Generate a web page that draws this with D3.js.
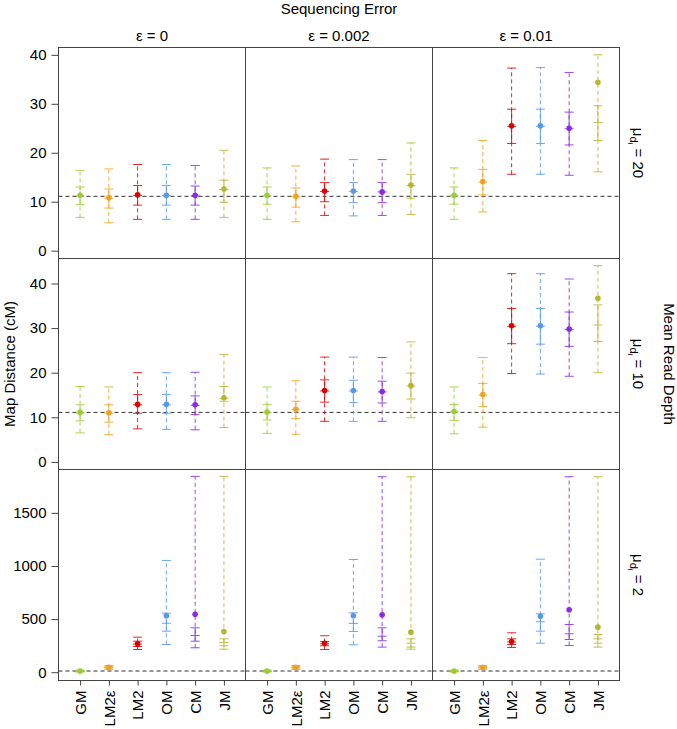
<!DOCTYPE html>
<html>
<head>
<meta charset="utf-8">
<script src="https://cdn.jsdelivr.net/npm/d3@7"></script>
<style>
  body { margin: 0; background: #fff; }
  svg text { font-family: "Liberation Sans", Arial, sans-serif; fill: #000; }
</style>
</head>
<body>
<svg id="chart" width="677" height="729"></svg>
<script>
// ---------------- data ----------------
const categories = ["GM", "LM2\u03b5", "LM2", "OM", "CM", "JM"];
const colLabels = ["\u03b5 = 0", "\u03b5 = 0.002", "\u03b5 = 0.01"];
const rowDepths = ["20", "10", "2"];
const trueDistance = 11.1;
const yTicksTop = [0, 10, 20, 30, 40];
const yTicksMid = [0, 10, 20, 30, 40];
const yTicksBottom = [0, 500, 1000, 1500];
const yLimits = [[-1.6, 41.5], [-1.7, 45.6], [-78, 1908]];

// each row: [min, q1, median, q3, max, mean] per category
const depth20_e0 = [
  [6.8, 9.4, 11.2, 13.0, 16.4, 11.3],
  [5.7, 8.7, 10.7, 12.6, 16.7, 10.8],
  [6.4, 9.3, 11.3, 13.3, 17.6, 11.4],
  [6.4, 9.3, 11.3, 13.3, 17.6, 11.3],
  [6.4, 9.3, 11.2, 13.2, 17.4, 11.3],
  [6.8, 9.9, 12.5, 14.4, 20.5, 12.6]
];
const depth20_e002 = [
  [6.4, 9.5, 11.2, 13.0, 16.9, 11.3],
  [5.9, 8.9, 11.0, 12.8, 17.3, 11.1],
  [7.2, 10.0, 12.1, 13.9, 18.7, 12.2],
  [7.1, 9.8, 12.1, 13.9, 18.6, 12.2],
  [7.2, 9.8, 12.0, 13.9, 18.6, 12.0],
  [7.4, 10.7, 13.3, 15.6, 22.0, 13.4]
];
const depth20_e01 = [
  [6.4, 9.5, 11.2, 13.0, 16.9, 11.3],
  [7.9, 11.4, 14.0, 16.6, 22.5, 14.1],
  [15.6, 21.9, 25.4, 28.9, 37.3, 25.5],
  [15.6, 21.9, 25.4, 28.9, 37.4, 25.5],
  [15.4, 21.6, 24.9, 28.3, 36.4, 25.0],
  [16.1, 22.5, 26.2, 29.6, 40.0, 34.4]
];
const depth10_e0 = [
  [6.5, 9.2, 11.0, 12.8, 16.9, 11.1],
  [6.1, 8.9, 10.9, 12.8, 16.8, 11.0],
  [7.4, 10.9, 12.8, 15.1, 20.0, 12.9],
  [7.3, 10.9, 12.8, 15.1, 20.0, 12.9],
  [7.2, 10.6, 12.7, 14.8, 20.1, 12.8],
  [7.7, 13.6, 14.2, 16.9, 24.1, 14.4]
];
const depth10_e002 = [
  [6.4, 9.4, 11.1, 12.9, 16.8, 11.2],
  [6.2, 9.7, 11.7, 13.6, 18.2, 11.8],
  [9.1, 13.4, 15.9, 18.4, 23.5, 16.0],
  [9.1, 13.3, 15.9, 18.3, 23.5, 16.0],
  [9.1, 13.2, 15.7, 18.1, 23.4, 15.8],
  [9.9, 14.1, 17.0, 19.9, 26.9, 17.1]
];
const depth10_e01 = [
  [6.3, 9.3, 11.2, 12.9, 16.8, 11.3],
  [7.8, 12.4, 15.0, 17.6, 23.4, 15.1],
  [19.8, 26.5, 30.4, 34.4, 42.2, 30.5],
  [19.7, 26.4, 30.4, 34.4, 42.2, 30.5],
  [19.2, 25.9, 29.7, 33.6, 41.0, 29.8],
  [20.0, 27.0, 30.7, 35.2, 44.0, 36.7]
];
const depth2_e0 = [
  [2, 7, 10, 13, 20, 10.5],
  [25, 38, 45, 52, 63, 46],
  [214, 242, 265, 292, 330, 267],
  [261, 386, 461, 556, 1052, 531],
  [230, 292, 346, 418, 1843, 546],
  [217, 249, 280, 314, 1843, 383]
];
const depth2_e002 = [
  [2, 7, 10, 13, 20, 10.5],
  [25, 38, 45, 52, 63, 46],
  [214, 249, 268, 289, 343, 273],
  [258, 383, 459, 559, 1061, 531],
  [236, 296, 339, 418, 1840, 540],
  [217, 236, 273, 314, 1840, 377]
];
const depth2_e01 = [
  [2, 7, 10, 13, 20, 10.5],
  [25, 38, 45, 52, 63, 47],
  [233, 261, 285, 314, 371, 289],
  [273, 386, 475, 550, 1064, 527],
  [251, 308, 362, 449, 1840, 588],
  [236, 273, 314, 355, 1840, 424]
];

const panels = [
  [depth20_e0, depth20_e002, depth20_e01],
  [depth10_e0, depth10_e002, depth10_e01],
  [depth2_e0, depth2_e002, depth2_e01]
];
const rowTicks = [yTicksTop, yTicksMid, yTicksBottom];

// ---------------- styles / layout ----------------
const colors = ["#9acd32", "#eea320", "#dd0000", "#5599ee", "#8a2be2", "#b5b531"];
const pLeft = 58.5, pRight = 619.5, pTop = 47.5, pBottom = 680.5;
const colW = (pRight - pLeft) / 3, rowH = (pBottom - pTop) / 3;
const frameColor = "#444";
const FS = 15;
const FONT = '"Liberation Sans", Arial, sans-serif';

const svg = d3.select("#chart");

// titles
svg.append("text").attr("x", (pLeft + pRight) / 2).attr("y", 13.5)
  .attr("text-anchor", "middle").attr("font-size", FS).text("Sequencing Error");

colLabels.forEach((lab, c) => {
  svg.append("text").attr("x", pLeft + colW * (c + 0.5)).attr("y", 40.5)
    .attr("text-anchor", "middle").attr("font-size", FS).text(lab);
});

svg.append("text")
  .attr("transform", `translate(15,${(pTop + pBottom) / 2}) rotate(-90)`)
  .attr("text-anchor", "middle").attr("font-size", FS).text("Map Distance (cM)");

svg.append("text")
  .attr("transform", `translate(664,${(pTop + pBottom) / 2}) rotate(90)`)
  .attr("text-anchor", "middle").attr("font-size", FS).text("Mean Read Depth");

rowDepths.forEach((d, r) => {
  const t = svg.append("text")
    .attr("transform", `translate(633,${pTop + rowH * (r + 0.5)}) rotate(90)`)
    .attr("text-anchor", "middle").attr("font-size", FS);
  t.append("tspan").text("\u03bc");
  t.append("tspan").attr("font-size", 11).attr("dy", 3).text("d");
  t.append("tspan").attr("font-size", 8).attr("dy", 2).text("i");
  t.append("tspan").attr("dy", -5).text(" = " + d);
});

panels.forEach((row, r) => {
  const y = d3.scaleLinear().domain(yLimits[r])
    .range([pTop + rowH * (r + 1), pTop + rowH * r]);

  // y axis on left
  const yAxis = d3.axisLeft(y).tickValues(rowTicks[r]).tickFormat(d3.format("d"))
    .tickSize(7).tickPadding(5);
  const ga = svg.append("g").attr("transform", `translate(${pLeft},0)`).call(yAxis);
  ga.select(".domain").remove();
  ga.selectAll("line").attr("stroke", frameColor);
  ga.selectAll("text").attr("font-size", FS).style("font-family", FONT).attr("fill", "#000");

  row.forEach((data, c) => {
    const x0 = pLeft + colW * c;
    const x = d3.scalePoint().domain(categories).range([x0, x0 + colW]).padding(0.75);
    const g = svg.append("g");

    // reference line
    g.append("line")
      .attr("x1", x0).attr("x2", x0 + colW)
      .attr("y1", y(trueDistance)).attr("y2", y(trueDistance))
      .attr("stroke", "#333").attr("stroke-width", 1).attr("stroke-dasharray", "4,3");

    data.forEach((s, i) => {
      const cx = x(categories[i]);
      const col = colors[i];
      const [mn, q1, md, q3, mx, mean] = s;
      const gg = g.append("g").attr("stroke", col).attr("stroke-width", 1).attr("stroke-opacity", 0.85);
      gg.append("line").attr("x1", cx).attr("x2", cx).attr("y1", y(mn)).attr("y2", y(mx))
        .attr("stroke-dasharray", "4,3");
      gg.append("line").attr("x1", cx).attr("x2", cx).attr("y1", y(q1)).attr("y2", y(q3));
      [mn, q1, md, q3, mx].forEach(v => {
        gg.append("line").attr("x1", cx - 4.5).attr("x2", cx + 4.5)
          .attr("y1", y(v)).attr("y2", y(v));
      });
      g.append("circle").attr("cx", cx).attr("cy", y(mean)).attr("r", 2.8).attr("fill", col);
    });

    // frame
    g.append("rect").attr("x", x0).attr("y", pTop + rowH * r)
      .attr("width", colW).attr("height", rowH)
      .attr("fill", "none").attr("stroke", frameColor).attr("stroke-width", 1);

    // x axis at bottom row
    if (r === 2) {
      const xAxis = d3.axisBottom(x).tickSize(5).tickPadding(4);
      const gx = svg.append("g").attr("transform", `translate(0,${pBottom})`).call(xAxis);
      gx.select(".domain").remove();
      gx.selectAll("line").attr("stroke", frameColor);
      gx.selectAll("text")
        .attr("font-size", FS)
        .style("font-family", FONT)
        .attr("fill", "#000")
        .attr("text-anchor", "end")
        .attr("transform", "rotate(-90)")
        .attr("x", -10).attr("y", 0).attr("dy", "0.35em");
    }
  });
});
</script>
</body>
</html>
